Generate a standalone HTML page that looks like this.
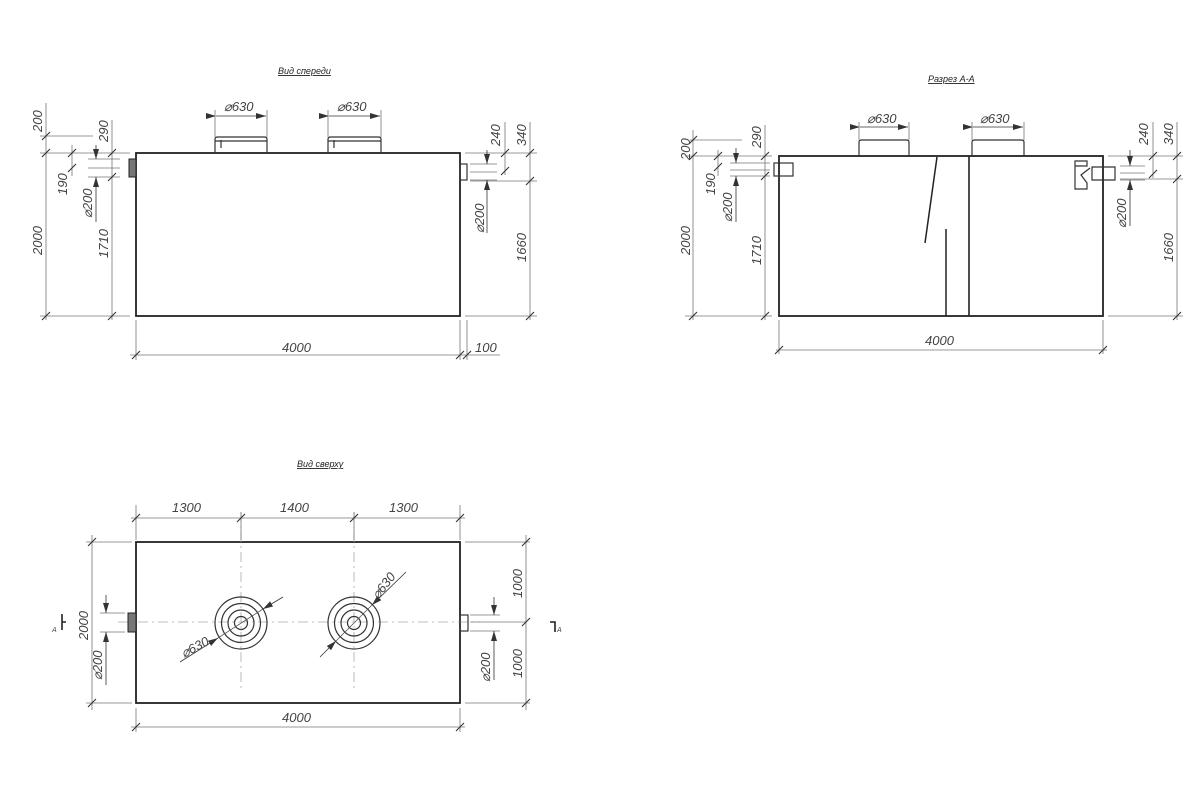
<!DOCTYPE html>
<html><head><meta charset="utf-8"><style>
html,body{margin:0;padding:0;background:#fff;}
svg{display:block}
text{font-family:"Liberation Sans",sans-serif;font-style:italic;fill:#444;font-size:13px}
.t{font-size:9px;fill:#222;text-decoration:underline}
.o{stroke:#222;stroke-width:1.8;fill:none}
.m{stroke:#333;stroke-width:1.2;fill:none}
.d{stroke:#777;stroke-width:0.8;fill:none}
.k{stroke:#333;stroke-width:1.1}
.c{stroke:#aaa;stroke-width:0.8;stroke-dasharray:10 4 2 4;fill:none}
</style></head><body>
<svg width="1200" height="800" viewBox="0 0 1200 800" xmlns="http://www.w3.org/2000/svg">
<defs>
<marker id="a" viewBox="0 0 10 6" refX="10" refY="3" markerWidth="10" markerHeight="6" orient="auto" markerUnits="userSpaceOnUse"><path d="M0,0 L10,3 L0,6z" fill="#333"/></marker>
</defs>

<!-- ===== FRONT VIEW ===== -->
<text class="t" x="278" y="74">Вид спереди</text>
<rect class="o" x="136" y="153" width="324" height="163"/>
<path class="m" d="M215,153 V139 Q215,137 218,137 H264 Q267,137 267,139 V153 M215,141 H267 M221,140 V148"/>
<path class="m" d="M328,153 V139 Q328,137 331,137 H378 Q381,137 381,139 V153 M328,141 H381 M334,140 V148"/>
<rect x="129" y="159" width="7" height="18" fill="#777" stroke="#222"/>
<rect class="m" x="460" y="164" width="7" height="16"/>
<!-- 630 dims -->
<path class="d" d="M215,110 V137 M267,110 V137 M328,110 V137 M381,110 V137"/>
<line class="d" x1="216" y1="116" x2="266" y2="116" marker-start="url(#a)" marker-end="url(#a)" style="stroke:#333"/>
<line class="d" x1="329" y1="116" x2="380" y2="116" marker-start="url(#a)" marker-end="url(#a)" style="stroke:#333"/>
<text x="224" y="111">⌀630</text><text x="337" y="111">⌀630</text>
<!-- left dims -->
<path class="d" d="M46,103 V320 M40,136 H93 M40,153 H130 M40,316 H130 M72,145 V176 M112,120 V320 M88,159 H120 M88,168 H120 M88,177 H120"/>
<path class="k" d="M42,140 L50,132 M42,157 L50,149 M42,320 L50,312 M68,157 L76,149 M68,172 L76,164 M108,157 L116,149 M108,181 L116,173 M108,320 L116,312"/>
<line class="d" x1="96" y1="145" x2="96" y2="159" marker-end="url(#a)" style="stroke:#333"/>
<line class="d" x1="96" y1="222" x2="96" y2="177" marker-end="url(#a)" style="stroke:#333"/>
<text transform="translate(42,132) rotate(-90)">200</text>
<text transform="translate(42,255) rotate(-90)">2000</text>
<text transform="translate(67,195) rotate(-90)">190</text>
<text transform="translate(92,218) rotate(-90)">⌀200</text>
<text transform="translate(108,142) rotate(-90)">290</text>
<text transform="translate(108,258) rotate(-90)">1710</text>
<!-- right dims -->
<path class="d" d="M465,153 H537 M470,181 H537 M465,316 H537 M530,122 V320 M505,122 V175 M470,164 H497 M470,172 H497 M470,180 H497"/>
<path class="k" d="M526,157 L534,149 M526,185 L534,177 M526,320 L534,312 M501,157 L509,149 M501,175 L509,167"/>
<line class="d" x1="487" y1="150" x2="487" y2="164" marker-end="url(#a)" style="stroke:#333"/>
<line class="d" x1="487" y1="233" x2="487" y2="180" marker-end="url(#a)" style="stroke:#333"/>
<text transform="translate(500,146) rotate(-90)">240</text>
<text transform="translate(526,146) rotate(-90)">340</text>
<text transform="translate(484,233) rotate(-90)">⌀200</text>
<text transform="translate(526,262) rotate(-90)">1660</text>
<!-- bottom -->
<path class="d" d="M136,320 V360 M460,320 V360 M467,320 V360 M130,355 H500"/>
<path class="k" d="M132,359 L140,351 M456,359 L464,351 M463,359 L471,351"/>
<text x="282" y="352">4000</text><text x="475" y="352">100</text>

<!-- ===== SECTION A-A ===== -->
<text class="t" x="928" y="82">Разрез А-А</text>
<rect class="o" x="779" y="156" width="324" height="160"/>
<path class="m" d="M859,156 V142 Q859,140 862,140 H906 Q909,140 909,142 V156"/>
<path class="m" d="M972,156 V142 Q972,140 975,140 H1021 Q1024,140 1024,142 V156"/>
<path class="o" d="M937,157 L925,243 M946,229 V316" style="stroke-width:1.5"/>
<path class="o" d="M969,156 V316" style="stroke-width:1.6"/>
<rect class="m" x="774" y="163" width="19" height="13"/>
<path class="m" d="M1075,161 H1087 V166 H1075 Z M1075,166 V189 H1087 V183 L1081,175 L1090,168 M1092,167 H1115 V180 H1092 Z"/>
<path class="d" d="M859,122 V140 M909,122 V140 M972,122 V140 M1024,122 V140"/>
<line class="d" x1="860" y1="127" x2="908" y2="127" marker-start="url(#a)" marker-end="url(#a)" style="stroke:#333"/>
<line class="d" x1="973" y1="127" x2="1023" y2="127" marker-start="url(#a)" marker-end="url(#a)" style="stroke:#333"/>
<text x="867" y="123">⌀630</text><text x="980" y="123">⌀630</text>
<path class="d" d="M693,130 V320 M690,140 H742 M685,156 H772 M685,316 H772 M718,150 V176 M765,125 V320 M730,163 H770 M730,170 H770 M730,176 H770"/>
<path class="k" d="M689,144 L697,136 M689,160 L697,152 M689,320 L697,312 M714,160 L722,152 M714,171 L722,163 M761,160 L769,152 M761,180 L769,172 M761,320 L769,312"/>
<line class="d" x1="736" y1="148" x2="736" y2="163" marker-end="url(#a)" style="stroke:#333"/>
<line class="d" x1="736" y1="222" x2="736" y2="176" marker-end="url(#a)" style="stroke:#333"/>
<text transform="translate(690,160) rotate(-90)">200</text>
<text transform="translate(690,255) rotate(-90)">2000</text>
<text transform="translate(715,195) rotate(-90)">190</text>
<text transform="translate(732,222) rotate(-90)">⌀200</text>
<text transform="translate(761,148) rotate(-90)">290</text>
<text transform="translate(761,265) rotate(-90)">1710</text>
<path class="d" d="M1108,156 H1183 M1120,179 H1183 M1108,316 H1183 M1177,122 V320 M1153,122 V178 M1120,166 H1145 M1120,173 H1145 M1120,180 H1145"/>
<path class="k" d="M1173,160 L1181,152 M1173,183 L1181,175 M1173,320 L1181,312 M1149,160 L1157,152 M1149,178 L1157,170"/>
<line class="d" x1="1130" y1="150" x2="1130" y2="166" marker-end="url(#a)" style="stroke:#333"/>
<line class="d" x1="1130" y1="226" x2="1130" y2="180" marker-end="url(#a)" style="stroke:#333"/>
<text transform="translate(1148,145) rotate(-90)">240</text>
<text transform="translate(1173,145) rotate(-90)">340</text>
<text transform="translate(1126,228) rotate(-90)">⌀200</text>
<text transform="translate(1173,262) rotate(-90)">1660</text>
<path class="d" d="M779,320 V354 M1103,320 V354 M776,350 H1107"/>
<path class="k" d="M775,354 L783,346 M1099,354 L1107,346"/>
<text x="925" y="345">4000</text>

<!-- ===== TOP VIEW ===== -->
<text class="t" x="297" y="467">Вид сверху</text>
<rect class="o" x="136" y="542" width="324" height="161"/>
<path class="c" d="M118,622 H480 M241,512 V690 M354,512 V690"/>
<g class="m"><circle cx="241" cy="623" r="26"/><circle cx="241" cy="623" r="19.5"/><circle cx="241" cy="623" r="13"/><circle cx="241" cy="623" r="6.5"/>
<circle cx="354" cy="623" r="26"/><circle cx="354" cy="623" r="19.5"/><circle cx="354" cy="623" r="13"/><circle cx="354" cy="623" r="6.5"/></g>
<line class="d" x1="180" y1="662" x2="218" y2="638" marker-end="url(#a)" style="stroke:#333"/>
<line class="d" x1="283" y1="597" x2="263" y2="609" marker-end="url(#a)" style="stroke:#333"/>
<line class="d" x1="218" y1="638" x2="263" y2="609" style="stroke:#555"/>
<line class="d" x1="320" y1="657" x2="336" y2="641" marker-end="url(#a)" style="stroke:#333"/>
<line class="d" x1="406" y1="572" x2="372" y2="605" marker-end="url(#a)" style="stroke:#333"/>
<line class="d" x1="336" y1="641" x2="372" y2="605" style="stroke:#555"/>
<text transform="translate(184,658) rotate(-28)">⌀630</text>
<text transform="translate(378,600) rotate(-52)">⌀630</text>
<rect x="128" y="613" width="8" height="19" fill="#777" stroke="#222"/>
<rect class="m" x="460" y="615" width="8" height="16"/>
<path class="d" d="M136,505 V540 M241,512 V540 M354,512 V540 M460,505 V540 M131,518 H465"/>
<path class="k" d="M132,522 L140,514 M237,522 L245,514 M350,522 L358,514 M456,522 L464,514"/>
<text x="172" y="512">1300</text><text x="280" y="512">1400</text><text x="389" y="512">1300</text>
<path class="d" d="M86,542 H132 M86,703 H132 M92,535 V710 M100,613 H125 M100,632 H125"/>
<path class="k" d="M88,546 L96,538 M88,707 L96,699"/>
<line class="d" x1="106" y1="595" x2="106" y2="613" marker-end="url(#a)" style="stroke:#333"/>
<line class="d" x1="106" y1="685" x2="106" y2="632" marker-end="url(#a)" style="stroke:#333"/>
<text transform="translate(88,640) rotate(-90)">2000</text>
<text transform="translate(102,680) rotate(-90)">⌀200</text>
<path class="d" d="M465,542 H530 M465,703 H530 M526,535 V710 M470,615 H500 M470,631 H500 M470,622 H526"/>
<path class="k" d="M522,546 L530,538 M522,626 L530,618 M522,707 L530,699"/>
<line class="d" x1="494" y1="597" x2="494" y2="615" marker-end="url(#a)" style="stroke:#333"/>
<line class="d" x1="494" y1="680" x2="494" y2="631" marker-end="url(#a)" style="stroke:#333"/>
<text transform="translate(522,598) rotate(-90)">1000</text>
<text transform="translate(522,678) rotate(-90)">1000</text>
<text transform="translate(490,682) rotate(-90)">⌀200</text>
<path class="d" d="M136,708 V732 M460,708 V732 M131,727 H465"/>
<path class="k" d="M132,731 L140,723 M456,731 L464,723"/>
<text x="282" y="722">4000</text>
<!-- section marks -->
<path d="M62,614 V630 M62,622 H66" stroke="#222" stroke-width="1.6" fill="none"/>
<text x="52" y="632" style="font-size:7px">А</text>
<path d="M550,622 H555 V632" stroke="#222" stroke-width="1.6" fill="none"/>
<text x="557" y="632" style="font-size:7px">А</text>
</svg>
</body></html>
